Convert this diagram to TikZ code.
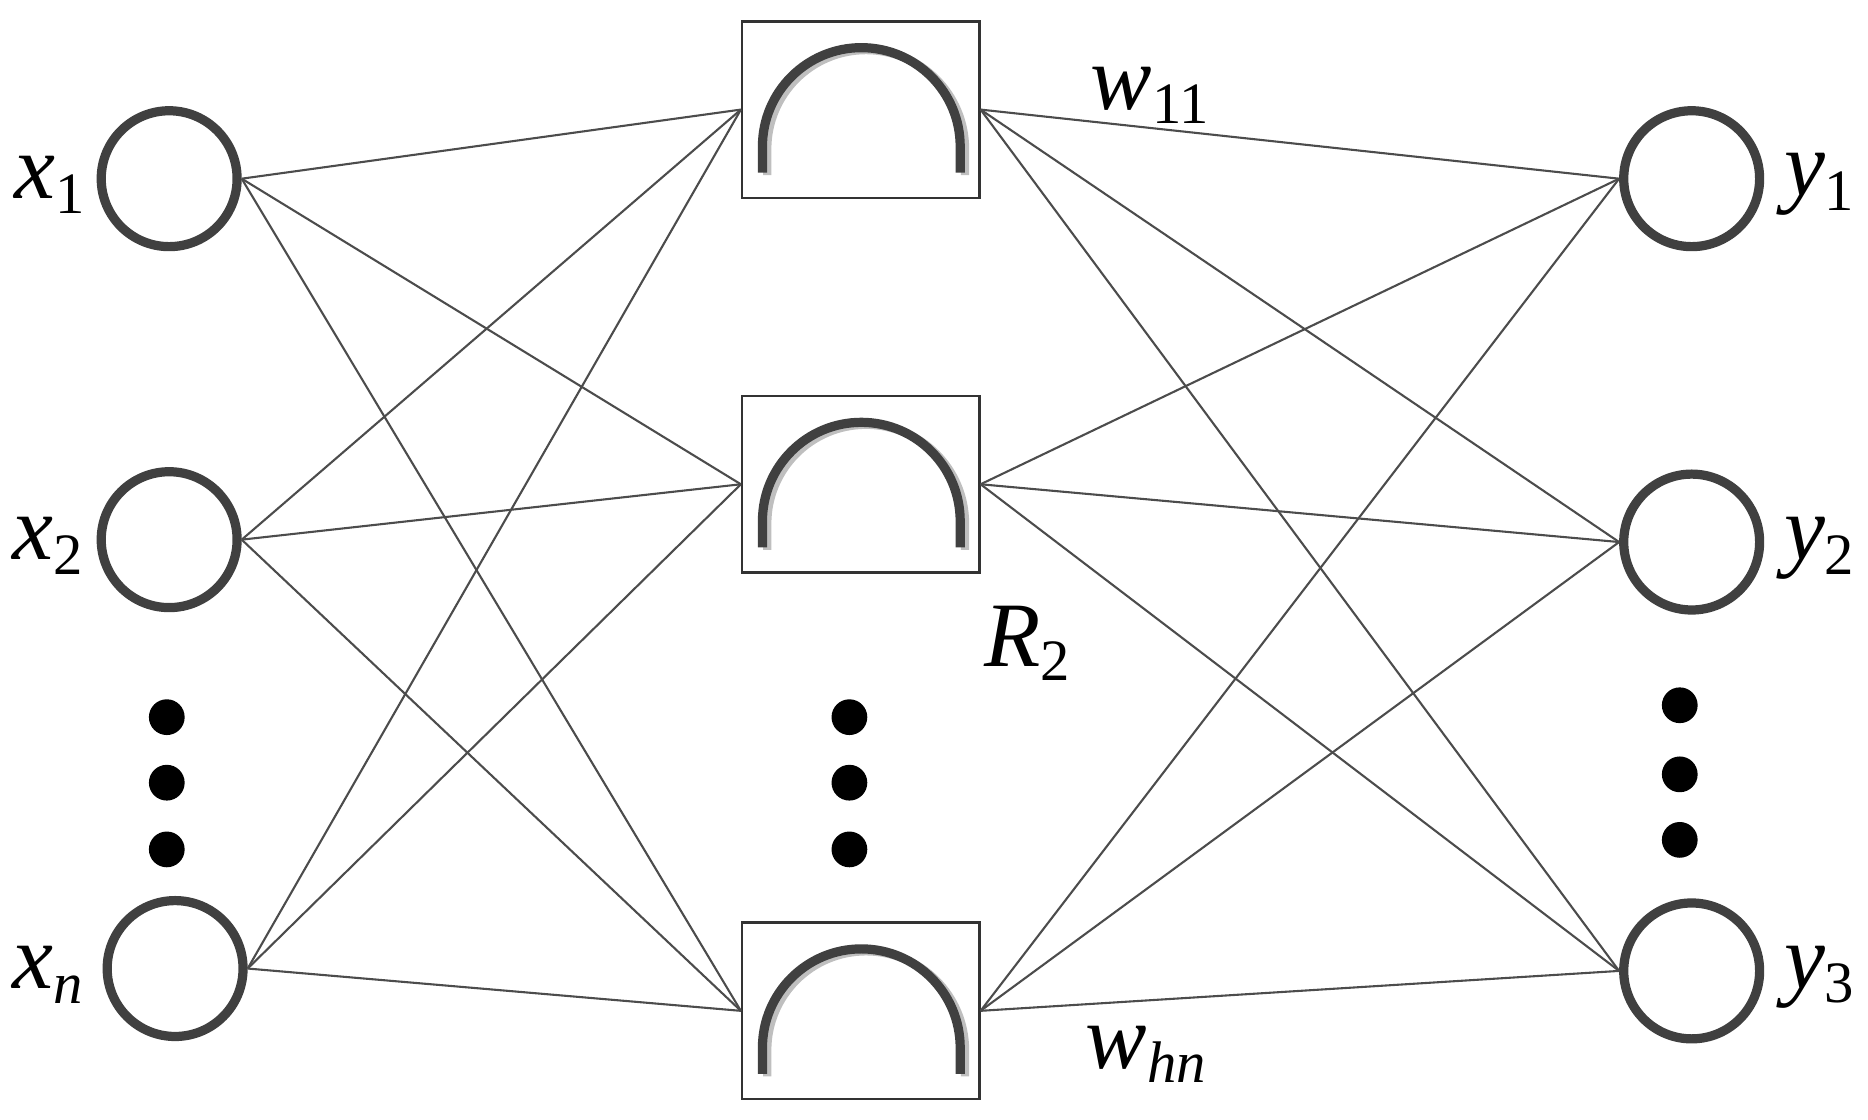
\documentclass[tikz,border=0pt]{standalone}
\usepackage{fontspec}
\setmainfont{Liberation Serif}
\newcommand{\sbs}[1]{\raisebox{-0.35ex}{\fontsize{14}{16}\selectfont #1}}
\begin{document}
\begin{tikzpicture}[x=0.01cm,y=-0.01cm,
  neuron/.style={circle,draw=black!75,line width=2.2pt,minimum size=1.14cm,inner sep=0pt},
  rbf/.style={draw=black!80,line width=0.6pt,minimum width=1.99cm,minimum height=1.48cm,inner sep=0pt},
  conn/.style={draw=black!70,line width=0.5pt},
  lab/.style={font=\fontsize{22}{24}\selectfont\itshape},
  dot/.style={circle,fill=black,minimum width=0.3cm,minimum height=0.24cm,inner sep=0pt}]
\useasboundingbox (0,0) rectangle (1568,940);
\node[neuron] (x1) at (142,150) {};
\node[neuron] (x2) at (142,453) {};
\node[neuron] (xn) at (147,813) {};
\node[neuron] (y1) at (1420,150) {};
\node[neuron] (y2) at (1420,455) {};
\node[neuron] (y3) at (1420,815) {};
\node[rbf] (h1) at (722.5,92) {};
\node[rbf] (h2) at (722.5,406.5) {};
\node[rbf] (h3) at (722.5,848.5) {};
\foreach \h/\cy in {h1/92,h2/406.5,h3/848.5}{
  \draw[black!25,line width=2pt] (644,\cy+55) -- (644,\cy+33) arc (180:360:83) -- (810,\cy+55);
  \draw[black!75,line width=2.2pt] (640,\cy+53) -- (640,\cy+31) arc (180:360:83) -- (806,\cy+53);
}
\foreach \i in {x1,x2,xn}{\foreach \h in {h1,h2,h3}{\draw[conn] (\i.east) -- (\h.west);}}
\foreach \h in {h1,h2,h3}{\foreach \o in {y1,y2,y3}{\draw[conn] (\h.east) -- (\o.west);}}
\node[lab] (lx1) at (42,155) {x\sbs{\upshape 1}};
\node[lab] (lx2) at (40,458) {x\sbs{\upshape 2}};
\node[lab] (lxn) at (40,818) {x\sbs{n}};
\node[lab] (ly1) at (1527,155) {y\sbs{\upshape 1}};
\node[lab] (ly2) at (1527,460) {y\sbs{\upshape 2}};
\node[lab] (ly3) at (1527,820) {y\sbs{\upshape 3}};
\node[lab] (w11) at (965,80) {w\sbs{\upshape 11}};
\node[lab] (r2) at (862,540) {R\sbs{\upshape 2}};
\node[lab] (whn) at (962,885) {w\sbs{hn}};
\foreach \yy [count=\k] in {602,657,713}{
  \node[dot] (dl\k) at (140,\yy) {};
  \node[dot] (dm\k) at (713,\yy) {};
}
\foreach \yy [count=\k] in {592,650,705}{\node[dot] (dr\k) at (1410,\yy) {};}
\end{tikzpicture}
\end{document}
